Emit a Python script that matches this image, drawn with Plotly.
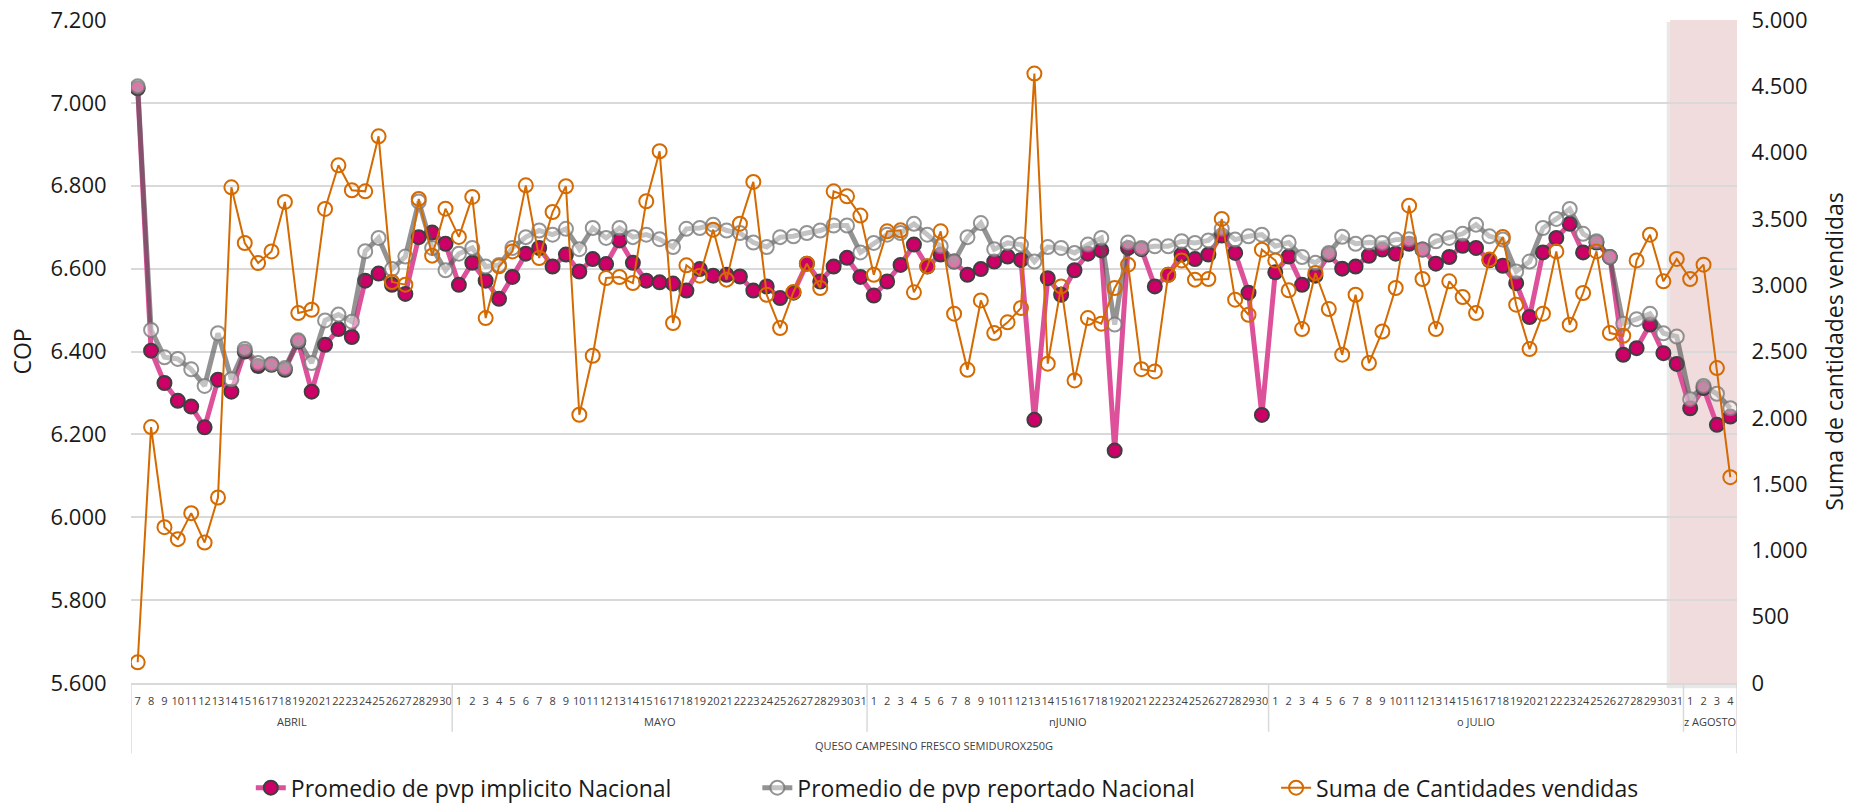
import plotly.graph_objects as go

# ---------------- data ----------------
product = "QUESO CAMPESINO FRESCO SEMIDUROX250G"
months = ["ABRIL", "MAYO", "nJUNIO", "o JULIO", "z AGOSTO"]
days_abril = [7, 8, 9, 10, 11, 12, 13, 14, 15, 16, 17, 18, 19, 20, 21, 22, 23, 24, 25, 26, 27, 28, 29, 30]
days_mayo = [1, 2, 3, 4, 5, 6, 7, 8, 9, 10, 11, 12, 13, 14, 15, 16, 17, 18, 19, 20, 21, 22, 23, 24, 25, 26, 27, 28, 29, 30, 31]
days_junio = [1, 2, 3, 4, 5, 6, 7, 8, 9, 10, 11, 12, 13, 14, 15, 16, 17, 18, 19, 20, 21, 22, 23, 24, 25, 26, 27, 28, 29, 30]
days_julio = [1, 2, 3, 4, 5, 6, 7, 8, 9, 10, 11, 12, 13, 14, 15, 16, 17, 18, 19, 20, 21, 22, 23, 24, 25, 26, 27, 28, 29, 30, 31]
days_agosto = [1, 2, 3, 4]
month_days = [days_abril, days_mayo, days_junio, days_julio, days_agosto]

pvp_implicito = [
    7035, 6402, 6324, 6281, 6267, 6217, 6332, 6303, 6400, 6365, 6368, 6356, 6424, 6303, 6416, 6454, 6435, 6571, 6588, 6561, 6539, 6676, 6687, 6660,
    6561, 6614, 6571, 6527, 6580, 6636, 6650, 6605, 6634, 6593, 6623, 6611, 6668, 6614, 6571, 6567, 6564, 6547, 6599, 6583, 6585, 6581, 6547, 6557, 6529, 6542, 6612, 6569, 6605, 6626, 6580,
    6535, 6569, 6609, 6658, 6605, 6634, 6617, 6585, 6599, 6617, 6629, 6621, 6235, 6577, 6537, 6596, 6636, 6644, 6161, 6650, 6647, 6557, 6585, 6634, 6623, 6634, 6680, 6638, 6542, 6247,
    6591, 6629, 6561, 6583, 6634, 6600, 6605, 6631, 6646, 6636, 6660, 6646, 6612, 6628, 6655, 6650, 6620, 6607, 6565, 6483, 6639, 6674, 6708, 6639, 6663, 6628, 6392, 6408, 6465, 6396, 6370,
    6263, 6312, 6223, 6243,
]
pvp_reportado = [
    7040, 6452, 6386, 6382, 6357, 6317, 6444, 6333, 6406, 6372, 6370, 6360, 6427, 6372, 6475, 6489, 6472, 6642, 6674, 6599, 6629, 6762, 6650, 6596,
    6636, 6650, 6605, 6609, 6650, 6676, 6692, 6682, 6696, 6647, 6698, 6674, 6698, 6676, 6682, 6671, 6652, 6696, 6698, 6706, 6692, 6686, 6663, 6652, 6676, 6678, 6686, 6692, 6704, 6704, 6639,
    6662, 6682, 6686, 6708, 6682, 6654, 6617, 6676, 6710, 6647, 6662, 6658, 6617, 6652, 6650, 6638, 6658, 6674, 6465, 6663, 6650, 6654, 6654, 6666, 6662, 6668, 6696, 6670, 6678, 6682,
    6654, 6663, 6628, 6614, 6638, 6677, 6660, 6663, 6662, 6670, 6671, 6646, 6666, 6674, 6684, 6706, 6678, 6670, 6593, 6617, 6698, 6720, 6744, 6684, 6666, 6628, 6467, 6478, 6491, 6444, 6436,
    6285, 6317, 6298, 6263,
]
cantidades = [
    156, 1930, 1175, 1085, 1281, 1059, 1399, 3738, 3318, 3167, 3255, 3628, 2790, 2815, 3575, 3904, 3716, 3708, 4123, 3024, 3004, 3651, 3223, 3577,
    3364, 3666, 2752, 3142, 3255, 3753, 3205, 3552, 3746, 2023, 2468, 3054, 3062, 3016, 3633, 4010, 2715, 3150, 3072, 3419, 3042, 3464, 3779, 2928, 2677, 2949, 3162, 2979, 3708, 3670, 3525,
    3079, 3406, 3414, 2946, 3142, 3406, 2785, 2362, 2885, 2639, 2720, 2828, 4596, 2408, 2991, 2282, 2752, 2710, 2979, 3155, 2367, 2350, 3079, 3187, 3042, 3047, 3500, 2891, 2777, 3268,
    3187, 2961, 2669, 3092, 2820, 2476, 2928, 2413, 2651, 2979, 3600, 3047, 2669, 3029, 2911, 2790, 3193, 3364, 2853, 2518, 2785, 3255, 2702, 2941, 3255, 2639, 2619, 3187, 3381, 3029, 3198,
    3047, 3155, 2375, 1552,
]
highlight_start_label = ("o JULIO", 31)

# ---------------- build ----------------
day_labels = []
month_of = []
for m, dl in zip(months, month_days):
    for d in dl:
        day_labels.append(str(d))
        month_of.append(m)
n = len(day_labels)
xs = list(range(n))

FONT = "Segoe UI, Open Sans, sans-serif"

fig = go.Figure()
fig.add_trace(go.Scatter(
    x=xs, y=pvp_implicito, name="Promedio de pvp implicito Nacional", mode="lines+markers",
    line=dict(color="#DD519A", width=5), legend="legend",
    marker=dict(size=14, color="#CC0066", line=dict(color="#3F3F3F", width=2)),
))
fig.add_trace(go.Scatter(
    x=xs, y=pvp_reportado, name="Promedio de pvp reportado Nacional", mode="lines+markers",
    line=dict(color="rgba(80,80,80,0.62)", width=5), legend="legend2",
    marker=dict(size=14, color="rgba(255,255,255,0.45)", line=dict(color="rgba(120,120,120,0.8)", width=2)),
))
fig.add_trace(go.Scatter(
    x=xs, y=cantidades, name="Suma de Cantidades vendidas", mode="lines+markers", yaxis="y2",
    line=dict(color="#D46A00", width=2), legend="legend3",
    marker=dict(size=14, symbol="circle-open", color="#D46A00", line=dict(width=2)),
))

shapes = []
hs = None
for i in range(n):
    if month_of[i] == highlight_start_label[0] and day_labels[i] == str(highlight_start_label[1]):
        hs = i
shapes.append(dict(type="rect", xref="x", yref="paper", x0=hs - 0.5 - 0.25, x1=n - 0.5, y0=-0.008, y1=0.997,
                   fillcolor="rgba(0,0,0,0.09)", line=dict(width=0), layer="below"))
shapes.append(dict(type="rect", xref="x", yref="paper", x0=hs - 0.5, x1=n - 0.5, y0=0, y1=1,
                   fillcolor="#F0DCDC", line=dict(width=0), layer="below"))

annotations = []
start = 0
grey = "#D9D9D9"
for k, (m, dl) in enumerate(zip(months, month_days)):
    end = start + len(dl) - 1
    annotations.append(dict(x=(start + end) / 2, y=-0.0585, xref="x", yref="paper", text=m, showarrow=False,
                            font=dict(family=FONT, size=11, color="#404040"), xanchor="center", yanchor="middle"))
    if k < len(months) - 1:
        shapes.append(dict(type="line", xref="x", yref="paper", x0=end + 0.5, x1=end + 0.5, y0=0, y1=-0.0735,
                           line=dict(color=grey, width=1.5)))
    start = end + 1
for xb in (-0.5, n - 0.5):
    shapes.append(dict(type="line", xref="x", yref="paper", x0=xb, x1=xb, y0=0, y1=-0.106,
                       line=dict(color=grey, width=1.5)))
annotations.append(dict(x=(n - 1) / 2, y=-0.0945, xref="x", yref="paper", text=product, showarrow=False,
                        font=dict(family=FONT, size=11, color="#404040"), xanchor="center", yanchor="middle"))

leg_common = dict(orientation="h", y=-0.158, yanchor="middle", xanchor="left",
                  font=dict(family=FONT, size=23, color="#1A1A1A"), bgcolor="rgba(0,0,0,0)")

fig.update_layout(
    width=1861, height=805,
    margin=dict(l=131, r=124, t=20, b=122, autoexpand=False),
    paper_bgcolor="white", plot_bgcolor="white",
    separators=",.",
    font=dict(family=FONT, color="#1A1A1A"),
    showlegend=True,
    legend=dict(x=0.0746, **leg_common),
    legend2=dict(x=0.390, **leg_common),
    legend3=dict(x=0.713, **leg_common),
    xaxis=dict(range=[-0.5, n - 0.5], tickmode="array", tickvals=xs, ticktext=day_labels, tickangle=0,
               tickfont=dict(family=FONT, size=11, color="#404040"), showgrid=False, zeroline=False,
               showline=True, linecolor=grey, linewidth=2, ticks="outside", ticklen=7,
               tickcolor="rgba(0,0,0,0)", automargin=False, ticklabeloverflow="allow"),
    yaxis=dict(range=[5600, 7200], dtick=200, tick0=5600, tickformat=",.0f",
               tickfont=dict(family=FONT, size=22, color="#1A1A1A"),
               title=dict(text="COP", font=dict(family=FONT, size=23, color="#1A1A1A"), standoff=12),
               showgrid=True, gridcolor=grey, gridwidth=1.5, zeroline=False,
               ticks="outside", ticklen=19, tickcolor="rgba(0,0,0,0)", automargin=False,
               ticklabeloverflow="allow"),
    yaxis2=dict(range=[0, 5000], dtick=500, tick0=0, tickformat=",.0f", overlaying="y", side="right",
                tickfont=dict(family=FONT, size=22, color="#1A1A1A"),
                title=dict(text="Suma de cantidades vendidas", font=dict(family=FONT, size=23, color="#1A1A1A"), standoff=20),
                showgrid=False, zeroline=False, ticks="outside", ticklen=9, tickcolor="rgba(0,0,0,0)",
                automargin=False, ticklabeloverflow="allow"),
    shapes=shapes,
    annotations=annotations,
)

fig.write_html("out.html", config={"displayModeBar": False},
               post_script="document.body.style.margin='0';")
